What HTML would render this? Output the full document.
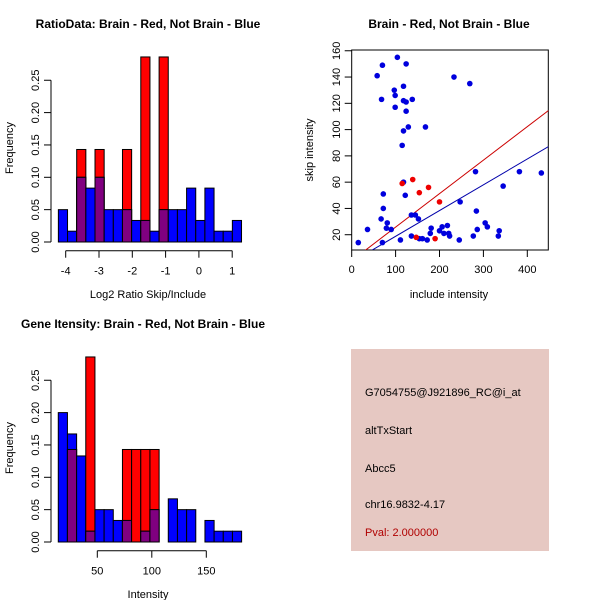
<!DOCTYPE html>
<html><head><meta charset="utf-8"><style>
body{margin:0;background:#fff}
svg{display:block;font-family:"Liberation Sans",sans-serif}
</style></head><body>
<svg id="c" width="600" height="600" viewBox="0 0 600 600">
<rect x="351" y="349" width="198" height="202" fill="#e6c8c2"/>
<g font-size="11">
<text x="365" y="396">G7054755@J921896_RC@i_at</text>
<text x="365" y="434">altTxStart</text>
<text x="365" y="472">Abcc5</text>
<text x="365" y="508">chr16.9832-4.17</text>
<text x="365" y="536" fill="#b00000">Pval: 2.000000</text>
</g>
</svg>
<script>
// Histogram 1 data
const h1Blue=[0.05,0.0167,0.1,0.0833,0.1,0.05,0.05,0.05,0.0333,0.0333,0.0167,0.05,0.05,0.05,0.0833,0.0333,0.0833,0.0167,0.0167,0.0333];
const h1Red=[0,0,0.143,0,0.143,0,0,0.143,0,0.286,0,0.286,0,0,0,0,0,0,0,0];
const h1Start=-4.22, h1Width=0.275;
const h1XTicks=[-4,-3,-2,-1,0,1];
// Histogram 2 data
const h2Blue=[0.2,0.167,0.133,0.0167,0.05,0.05,0.0333,0.0333,0,0.0167,0.05,0,0.0667,0.05,0.05,0,0.0333,0.0167,0.0167,0.0167];
const h2Red=[0,0.143,0,0.286,0,0,0,0.143,0.143,0.143,0.143,0,0,0,0,0,0,0,0,0];
const h2Start=14.2, h2Width=8.41;
const h2XTicks=[50,100,150];
const yTicks=[0,0.05,0.1,0.15,0.2,0.25];
const yTickLabels=["0.00","0.05","0.10","0.15","0.20","0.25"];
// Scatter data
const blueX=[104,58,70,124,233,269,118,97,99,68,118,138,124,99,124,129,168,118,115,282,382,432,345,118,72,122,72,247,284,67,136,145,152,81,304,309,79,36,90,181,206,218,200,286,336,179,210,221,223,136,277,334,15,70,111,154,161,172,245];
const blueY=[155,141,149,150,140,135,133,130,126,123,122,123,121,117,114,102,102,99,88,68,68,67,57,60,51,50,40,45,38,32,35,35,32,29,29,26,25,24,24,25,26,27,23,24,23,21,21,21,19,19,19,19,14,14,16,17,17,16,16];
const redX=[115,139,175,154,200,147,190];
const redY=[59,62,56,52,45,18,17];
const redLine=[0.25,0.255]; // intercept, slope
const blueLine=[-0.8,0.196];
const sXTicks=[0,100,200,300,400];
const sYTicks=[20,40,60,80,100,120,140,160];

const svg=document.getElementById('c');
const NS='http://www.w3.org/2000/svg';
function mk(tag,attrs,name,parent){const e=document.createElementNS(NS,tag);for(const k in attrs)e.setAttribute(k,attrs[k]);


(parent||svg).appendChild(e);return e;}
function txt(x,y,s,name,opts){const e=mk('text',Object.assign({x:x,y:y,'font-size':11,'text-anchor':'middle'},opts||{}),name);e.textContent=s;return e;}

function hist(oy,blue,red,start,width,xs,xpx,xTicks,title,xlab,titleX){
  const y0=oy+242, ys=v=>y0-v*647;
  const X=v=>xs+(v-xpx[0])*xpx[1];
  for(let i=0;i<blue.length;i++){
    const a=X(start+i*width), b=X(start+(i+1)*width);
    const bl=blue[i], rd=red[i], m=Math.min(bl,rd);
    if(rd>0) mk('rect',{x:a,y:ys(rd),width:b-a,height:y0-ys(rd),fill:'#ff0000',stroke:'#000','stroke-width':1},'red-bar-'+i);
    if(bl>0) mk('rect',{x:a,y:ys(bl),width:b-a,height:y0-ys(bl),fill:'#0000ff',stroke:'#000','stroke-width':1},'blue-bar-'+i);
    if(m>0) mk('rect',{x:a,y:ys(m),width:b-a,height:y0-ys(m),fill:'#800080',stroke:'#000','stroke-width':1},'overlap-bar-'+i);
  }
  // y axis
  mk('line',{x1:51,x2:51,y1:ys(0),y2:ys(0.25),stroke:'#000'},'y-axis-line');
  yTicks.forEach((t,i)=>{mk('line',{x1:44,x2:51,y1:ys(t),y2:ys(t),stroke:'#000'},'y-tick');
    txt(36,ys(t),yTickLabels[i],'y-tick-label',{transform:`rotate(-90 36 ${ys(t)})`,'dominant-baseline':'middle'});});
  const ya=oy+250.7;
  mk('line',{x1:X(xTicks[0]),x2:X(xTicks[xTicks.length-1]),y1:ya,y2:ya,stroke:'#000'},'x-axis-line');
  xTicks.forEach(t=>{mk('line',{x1:X(t),x2:X(t),y1:ya,y2:ya+7,stroke:'#000'},'x-tick');txt(X(t),ya+24,String(t).replace('-','\u2212'.replace('\u2212','-')),'x-tick-label');});
  txt(titleX,oy+28,title,'chart-title',{'font-weight':'bold','font-size':12});
  txt(148,oy+298,xlab,'x-axis-title');
  txt(10,oy+148,'Frequency','y-axis-title',{transform:`rotate(-90 10 ${oy+148})`,'dominant-baseline':'middle'});
}
hist(0,h1Blue,h1Red,h1Start,h1Width,65.7,[-4,33.3],h1XTicks,'RatioData: Brain - Red, Not Brain - Blue','Log2 Ratio Skip/Include',148);
hist(300,h2Blue,h2Red,h2Start,h2Width,97.3,[50,1.09],h2XTicks,'Gene Itensity: Brain - Red, Not Brain - Blue','Intensity',143);

// scatter
const SX=v=>351.7+v*0.439, SY=v=>261-v*1.314;
mk('rect',{x:351.7,y:50,width:196.6,height:200,fill:'none',stroke:'#000'},'plot-box');
const cp=mk('clipPath',{id:'clip'},'clip');
mk('rect',{x:351.7,y:50,width:196.6,height:200},'clip-rect',cp);
function regline(p,col,name){const x1=0,x2=450;mk('line',{x1:SX(x1),y1:SY(p[0]+p[1]*x1),x2:SX(x2),y2:SY(p[0]+p[1]*x2),stroke:col,'clip-path':'url(#clip)'},name);}
regline(redLine,'#cc0000','red-regression-line');
regline(blueLine,'#0000aa','blue-regression-line');
blueX.forEach((x,i)=>mk('circle',{cx:SX(x),cy:SY(blueY[i]),r:2.8,fill:'#0000dd'},'blue-point'));
redX.forEach((x,i)=>mk('circle',{cx:SX(x),cy:SY(redY[i]),r:2.8,fill:'#ee0000'},'red-point'));
sXTicks.forEach(t=>{mk('line',{x1:SX(t),x2:SX(t),y1:250,y2:257,stroke:'#000'},'x-tick');txt(SX(t),273,String(t),'x-tick-label');});
sYTicks.forEach(t=>{mk('line',{x1:344.7,x2:351.7,y1:SY(t),y2:SY(t),stroke:'#000'},'y-tick');txt(337,SY(t),String(t),'y-tick-label',{transform:`rotate(-90 337 ${SY(t)})`,'dominant-baseline':'middle'});});
txt(449,28,'Brain - Red, Not Brain - Blue','scatter-title',{'font-weight':'bold','font-size':12});
txt(449,298,'include intensity','x-axis-title');
txt(310,150,'skip intensity','y-axis-title',{transform:'rotate(-90 310 150)','dominant-baseline':'middle'});
</script>
</body></html>
